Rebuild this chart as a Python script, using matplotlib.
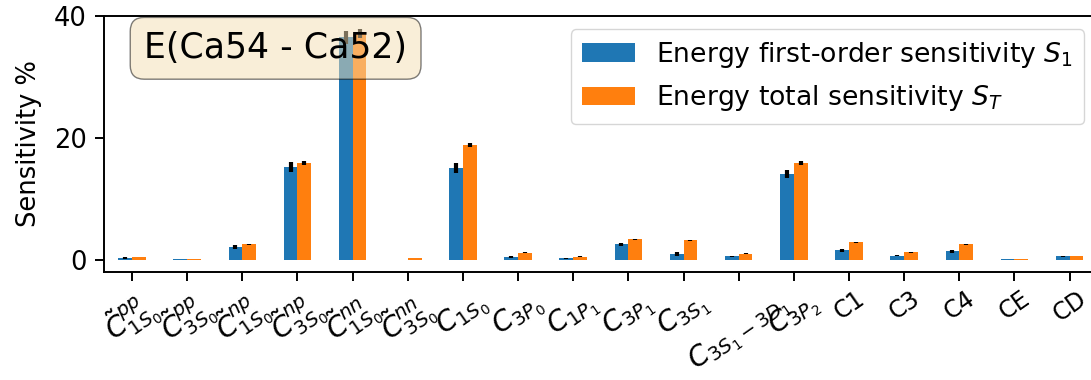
import numpy as np
import matplotlib

matplotlib.use("Agg")
import matplotlib.pyplot as plt

# Low-energy constants and their energy sensitivities (%)
labels = [
    r"$\tilde{C}^{pp}_{1S_0}$",
    r"$\tilde{C}^{pp}_{3S_0}$",
    r"$\tilde{C}^{np}_{1S_0}$",
    r"$\tilde{C}^{np}_{3S_0}$",
    r"$\tilde{C}^{nn}_{1S_0}$",
    r"$\tilde{C}^{nn}_{3S_0}$",
    r"$C_{1S_0}$",
    r"$C_{3P_0}$",
    r"$C_{1P_1}$",
    r"$C_{3P_1}$",
    r"$C_{3S_1}$",
    r"$C_{3S_1-3D_1}$",
    r"$C_{3P_2}$",
    "C1",
    "C3",
    "C4",
    "CE",
    "CD",
]
s1 = [0.25, 0.05, 2.0, 15.2, 36.5, -0.05, 15.0, 0.4, 0.22, 2.5, 0.87, 0.54, 14.0, 1.53, 0.65, 1.37, 0.07, 0.54]
s1_err = [0.1, 0.03, 0.35, 0.8, 1.1, 0.05, 0.85, 0.12, 0.08, 0.25, 0.3, 0.1, 0.65, 0.25, 0.15, 0.25, 0.02, 0.1]
st = [0.38, 0.07, 2.5, 15.85, 37.1, 0.22, 18.8, 1.15, 0.49, 3.34, 3.18, 0.98, 15.85, 2.85, 1.2, 2.52, 0.07, 0.54]
st_err = [0.03, 0.01, 0.08, 0.35, 0.8, 0.02, 0.4, 0.05, 0.03, 0.08, 0.1, 0.05, 0.35, 0.08, 0.05, 0.08, 0.01, 0.03]

plt.rcParams.update({
    "font.size": 18.5,
    "axes.linewidth": 1.4,
    "xtick.major.size": 6.5,
    "ytick.major.size": 6.5,
    "xtick.major.width": 1.4,
    "ytick.major.width": 1.4,
    "xtick.major.pad": 4,
    "ytick.major.pad": 6,
})

fig = plt.figure(figsize=(10.91, 3.8), dpi=100)
ax = fig.add_axes([0.0957, 0.285, 0.910, 0.673])

x = np.arange(len(labels))
w = 0.25
ax.bar(x - w / 2, s1, w, yerr=s1_err, color="tab:blue",
       error_kw=dict(elinewidth=3, ecolor="black"),
       label=r"Energy first-order sensitivity $S_1$")
ax.bar(x + w / 2, st, w, yerr=st_err, color="tab:orange",
       error_kw=dict(elinewidth=3, ecolor="black"),
       label=r"Energy total sensitivity $S_T$")

ax.set_xticks(x)
ax.set_xticklabels(labels, rotation=35)
for t in ax.get_xticklabels():
    t.set_fontsize(20 if t.get_text().startswith("$") else 17)
ax.set_xlim(-0.5, 17.5)
ax.set_ylim(-2, 40)
ax.set_yticks([0, 20, 40])
ax.set_ylabel("Sensitivity %", labelpad=9)

ax.text(0.04, 0.94, "E(Ca54 - Ca52)", transform=ax.transAxes, fontsize=25,
        va="top", bbox=dict(boxstyle="round,pad=0.4", facecolor="wheat", alpha=0.5))
ax.legend(loc="upper right", fontsize=19.2)

fig.savefig("out.png", dpi=100)
